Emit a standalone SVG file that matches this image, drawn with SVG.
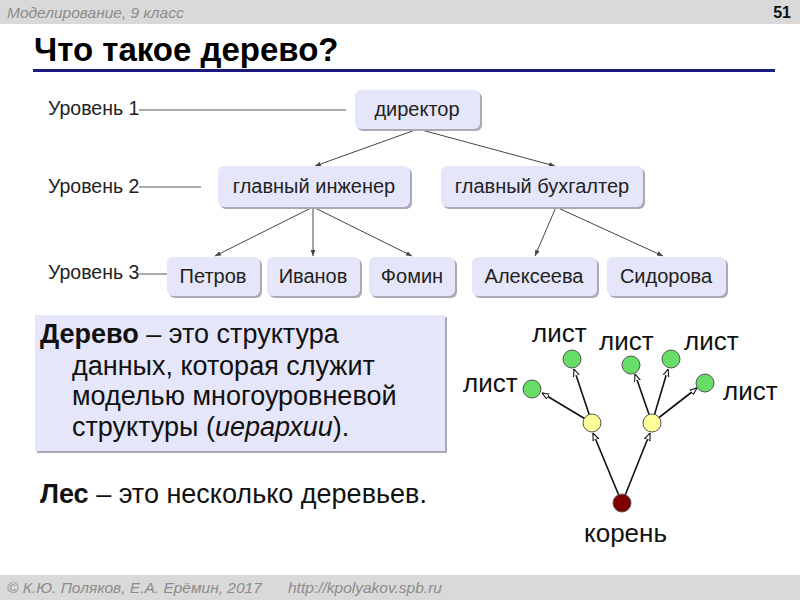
<svg xmlns="http://www.w3.org/2000/svg" width="800" height="600" viewBox="0 0 800 600">
<defs>
<style>
text{font-family:"Liberation Sans",Arial,sans-serif;}
.hdr{font-size:15.5px;font-style:italic;fill:#8c8c8c;}
.lvl{font-size:19.5px;fill:#222;}
.nt{font-size:20px;fill:#222;text-anchor:middle;}
.box{fill:#e6e6fa;}
.sh{fill:#a9a9b8;}
.conn line{stroke:#444;stroke-width:1;}
.lvline{stroke:#555;stroke-width:1;}
.big{font-size:27px;fill:#111;}
.leaf{font-size:26px;fill:#111;}
.tl{stroke:#111;stroke-width:1.6;}
</style>
<marker id="ah" viewBox="0 0 10 10" refX="10" refY="5" markerWidth="6" markerHeight="6" orient="auto"><path d="M0,1 L10,5 L0,9 z" fill="#444"/></marker>
<marker id="oh" viewBox="0 0 10 10" refX="10" refY="5" markerWidth="4.5" markerHeight="4.5" orient="auto"><path d="M0,1 L10,5 L0,9 z" fill="#fff" stroke="#111" stroke-width="1.5"/></marker>
</defs>
<rect width="800" height="600" fill="#fff"/>
<rect x="0" y="0" width="800" height="24" fill="#d9d9d9"/>
<text x="7" y="18" class="hdr">Моделирование, 9 класс</text>
<text x="791" y="18" font-size="16" font-weight="bold" text-anchor="end" fill="#111">51</text>
<text x="34" y="61" font-size="33" font-weight="bold" fill="#000">Что такое дерево?</text>
<line x1="33" y1="70.5" x2="775" y2="70.5" stroke="#1a1a80" stroke-width="3"/>
<rect x="0" y="575" width="800" height="25" fill="#d9d9d9"/>
<text x="7" y="593" class="hdr">© К.Ю. Поляков, Е.А. Ерёмин, 2017</text>
<text x="288" y="593" class="hdr">http://kpolyakov.spb.ru</text>

<g id="levels">
<text x="48" y="115" class="lvl">Уровень 1</text>
<line x1="139" y1="110" x2="346" y2="110" class="lvline"/>
<text x="48" y="193" class="lvl">Уровень 2</text>
<line x1="139" y1="187" x2="201" y2="187" class="lvline"/>
<text x="48" y="279" class="lvl">Уровень 3</text>
<line x1="139" y1="274" x2="167" y2="274" class="lvline"/>
</g>

<g class="conn">
<line x1="418" y1="129" x2="315" y2="166" marker-end="url(#ah)"/>
<line x1="418" y1="129" x2="555" y2="166" marker-end="url(#ah)"/>
<line x1="313" y1="207" x2="215" y2="256" marker-end="url(#ah)"/>
<line x1="313" y1="207" x2="313" y2="256" marker-end="url(#ah)"/>
<line x1="313" y1="207" x2="412" y2="256" marker-end="url(#ah)"/>
<line x1="556" y1="207" x2="535" y2="256" marker-end="url(#ah)"/>
<line x1="556" y1="207" x2="663" y2="256" marker-end="url(#ah)"/>
</g>

<g id="n-director"><rect x="357" y="92" width="125" height="39" rx="6" class="sh"/><rect x="355" y="90" width="125" height="39" rx="6" class="box"/><text x="417" y="116" class="nt">директор</text></g>
<g id="n-engineer"><rect x="220" y="168" width="192" height="41" rx="6" class="sh"/><rect x="218" y="166" width="192" height="41" rx="6" class="box"/><text x="314" y="193" class="nt">главный инженер</text></g>
<g id="n-accountant"><rect x="443" y="168" width="202" height="41" rx="6" class="sh"/><rect x="441" y="166" width="202" height="41" rx="6" class="box"/><text x="542" y="193" class="nt">главный бухгалтер</text></g>
<g id="n-petrov"><rect x="169" y="259" width="93" height="39" rx="6" class="sh"/><rect x="167" y="257" width="93" height="39" rx="6" class="box"/><text x="213" y="283" class="nt">Петров</text></g>
<g id="n-ivanov"><rect x="269" y="259" width="93" height="39" rx="6" class="sh"/><rect x="267" y="257" width="93" height="39" rx="6" class="box"/><text x="313" y="283" class="nt">Иванов</text></g>
<g id="n-fomin"><rect x="371" y="259" width="86" height="39" rx="6" class="sh"/><rect x="369" y="257" width="86" height="39" rx="6" class="box"/><text x="412" y="283" class="nt">Фомин</text></g>
<g id="n-alekseeva"><rect x="474" y="259" width="125" height="39" rx="6" class="sh"/><rect x="472" y="257" width="125" height="39" rx="6" class="box"/><text x="534" y="283" class="nt">Алексеева</text></g>
<g id="n-sidorova"><rect x="609" y="259" width="119" height="39" rx="6" class="sh"/><rect x="607" y="257" width="119" height="39" rx="6" class="box"/><text x="666" y="283" class="nt">Сидорова</text></g>

<g id="definition">
<rect x="37" y="317" width="410" height="136" fill="#a9a9b8"/>
<rect x="35" y="315" width="410" height="136" fill="#e6e6fa"/>
<text x="40" y="343" class="big"><tspan font-weight="bold">Дерево</tspan> – это структура</text>
<text x="72" y="375" class="big">данных, которая служит</text>
<text x="72" y="405" class="big">моделью многоуровневой</text>
<text x="72" y="436" class="big">структуры (<tspan font-style="italic">иерархии</tspan>).</text>
<text x="40" y="503" class="big"><tspan font-weight="bold">Лес</tspan> – это несколько деревьев.</text>
</g>

<g id="tree-edges">
<line x1="622" y1="503" x2="593" y2="433" class="tl" marker-end="url(#oh)"/>
<line x1="622" y1="503" x2="650" y2="433" class="tl" marker-end="url(#oh)"/>
<line x1="592" y1="423" x2="542" y2="393" class="tl" marker-end="url(#oh)"/>
<line x1="592" y1="423" x2="574" y2="369" class="tl" marker-end="url(#oh)"/>
<line x1="652" y1="423" x2="635" y2="374" class="tl" marker-end="url(#oh)"/>
<line x1="652" y1="423" x2="668" y2="369" class="tl" marker-end="url(#oh)"/>
<line x1="652" y1="423" x2="697" y2="388" class="tl" marker-end="url(#oh)"/>
</g>
<g id="tree-nodes" stroke="#555" stroke-width="1">
<circle id="root" cx="622" cy="503" r="9" fill="#800000"/>
<circle id="mid1" cx="592" cy="423" r="9" fill="#ffff99"/>
<circle id="mid2" cx="652" cy="423" r="9" fill="#ffff99"/>
<circle id="leaf1" cx="532" cy="389" r="9" fill="#66dd66"/>
<circle id="leaf2" cx="572" cy="359" r="9" fill="#66dd66"/>
<circle id="leaf3" cx="631" cy="365" r="9" fill="#66dd66"/>
<circle id="leaf4" cx="671" cy="359" r="9" fill="#66dd66"/>
<circle id="leaf5" cx="705" cy="383" r="9" fill="#66dd66"/>
</g>
<g id="tree-labels">
<text x="463" y="392" class="leaf">лист</text>
<text x="532" y="342" class="leaf">лист</text>
<text x="599" y="350" class="leaf">лист</text>
<text x="684" y="350" class="leaf">лист</text>
<text x="723" y="400" class="leaf">лист</text>
<text x="584" y="542" class="leaf">корень</text>
</g>
</svg>
